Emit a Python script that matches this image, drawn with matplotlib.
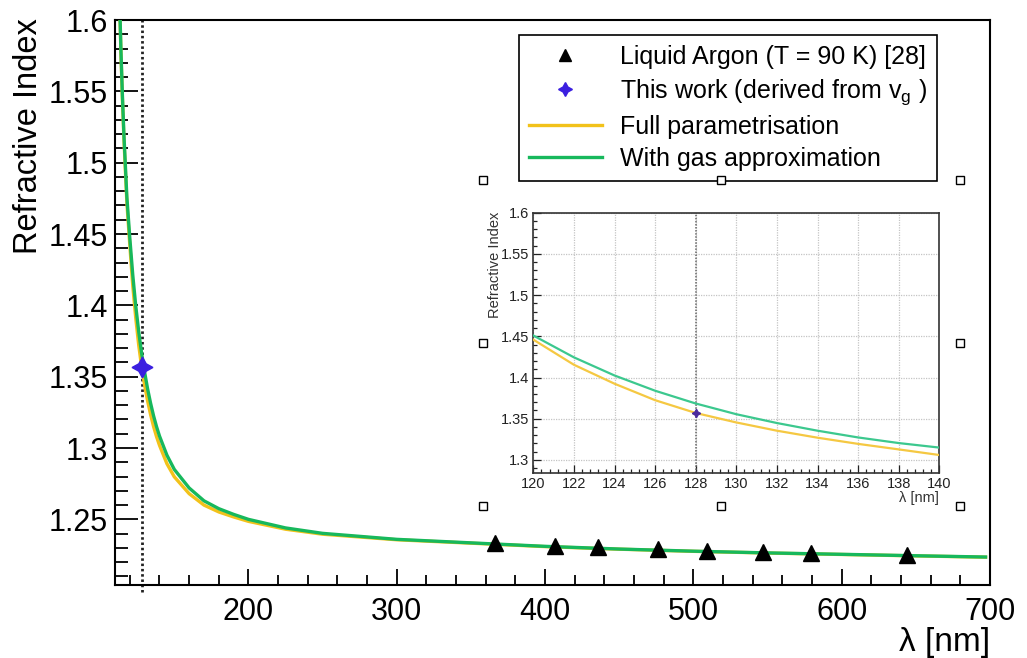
import matplotlib

matplotlib.use("Agg")
import matplotlib.pyplot as plt  # noqa: E402
from matplotlib.lines import Line2D  # noqa: E402
from matplotlib.ticker import FuncFormatter, MultipleLocator  # noqa: E402

plt.rcParams["font.family"] = ["Liberation Sans", "DejaVu Sans"]
plt.rcParams["mathtext.fontset"] = "custom"
plt.rcParams["mathtext.rm"] = "Liberation Sans"
plt.rcParams["mathtext.it"] = "Liberation Sans:italic"

# --- values -----------------------------------------------------------------
# main pad
wavelength = [112, 113, 114, 115, 116, 118, 120, 122, 124, 126, 128, 130, 132, 134, 136, 138,
              140, 145, 150, 160, 170, 180, 190, 200, 225, 250, 300, 365, 400, 450, 500, 550,
              600, 650, 697]
n_gas = [1.665, 1.618, 1.579, 1.547, 1.520, 1.476, 1.447, 1.421, 1.3995, 1.3815, 1.366, 1.353,
         1.3414, 1.3314, 1.3226, 1.315, 1.3084, 1.295, 1.285, 1.272, 1.263, 1.2575, 1.2535,
         1.2500, 1.2440, 1.2402, 1.2360, 1.2328, 1.2311, 1.2292, 1.2277, 1.2265, 1.2255, 1.2245,
         1.2236]
n_full = [1.664, 1.6165, 1.577, 1.5445, 1.517, 1.472, 1.442, 1.4135, 1.391, 1.372, 1.3565, 1.344,
          1.3329, 1.3234, 1.3151, 1.308, 1.3019, 1.289, 1.2798, 1.268, 1.260, 1.2552, 1.2517,
          1.2486, 1.2431, 1.2396, 1.2357, 1.2326, 1.2309, 1.2291, 1.2276, 1.2264, 1.2254, 1.2244,
          1.2235]
lar_wavelength = [366, 407, 436, 476, 509, 547, 579, 644]
lar_n = [1.2334, 1.2314, 1.2303, 1.2290, 1.2281, 1.2272, 1.2265, 1.2252]
work_wavelength = [128.0]
work_n = [1.357]
measured_wavelength = 128.0

# zoomed inset
inset_wavelength = [120, 122, 124, 126, 128, 130, 132, 134, 136, 138, 140]
inset_gas = [1.451, 1.4245, 1.4025, 1.384, 1.3685, 1.3555, 1.3448, 1.3355, 1.3273, 1.3205, 1.315]
inset_full = [1.446, 1.4155, 1.3925, 1.3725, 1.357, 1.3455, 1.3355, 1.327, 1.3195, 1.3128, 1.306]

labels = ["Liquid Argon (T = 90 K) [28]",
          r"This work (derived from v$_{\mathrm{g}}$ )",
          "Full parametrisation",
          "With gas approximation"]

GREEN = "#17b85c"
YELLOW = "#f2c21a"
STAR = "#3b1fe0"
W, H = 1027, 658

fmt_g = FuncFormatter(lambda v, _: f"{v:g}")
star = (4, 1, 0)

fig = plt.figure(figsize=(W / 100, H / 100), dpi=100)

# --- main pad ---------------------------------------------------------------
ax = fig.add_axes([115 / W, 1 - 585 / H, 875 / W, 565 / H])
ax.plot(wavelength, n_full, color=YELLOW, lw=2.4, zorder=3)
ax.plot(wavelength, n_gas, color=GREEN, lw=2.4, zorder=4)
ax.axvline(measured_wavelength, ymin=-0.012, color="#222222", lw=2.0,
           ls=(0, (0.9, 1.0)), clip_on=False, zorder=2)
ax.plot(lar_wavelength, lar_n, ls="none", marker="^", ms=11, color="black", zorder=5)
ax.plot(work_wavelength, work_n, ls="none", marker=star, ms=15, color=STAR, zorder=6)

ax.set_xlim(110, 700)
ax.set_ylim(1.204, 1.6)
ax.xaxis.set_major_locator(MultipleLocator(100))
ax.xaxis.set_minor_locator(MultipleLocator(20))
ax.yaxis.set_major_locator(MultipleLocator(0.05))
ax.yaxis.set_minor_locator(MultipleLocator(0.01))
ax.yaxis.set_major_formatter(fmt_g)
ax.tick_params(which="both", direction="in", top=False, right=False, width=1.3,
               labelsize=22, colors="black")
ax.tick_params(axis="x", which="major", length=11.5, pad=9)
ax.tick_params(axis="x", which="minor", length=7)
ax.tick_params(axis="y", which="major", length=16.5, pad=5)
ax.tick_params(axis="y", which="minor", length=9.5)
for s in ax.spines.values():
    s.set_linewidth(1.5)

fig.text(29 / W, 1 - 18 / H, "Refractive Index", rotation=90, ha="center", va="top",
         fontsize=23.5)
fig.text(990 / W, 1 - 642 / H, "λ [nm]", ha="right", va="center", fontsize=24)

handles = [
    Line2D([], [], ls="none", marker="^", ms=8, color="black"),
    Line2D([], [], ls="none", marker=star, ms=10, color=STAR),
    Line2D([], [], color=YELLOW, lw=2.4),
    Line2D([], [], color=GREEN, lw=2.4),
]
leg = ax.legend(handles, labels, loc="upper left", bbox_to_anchor=(519 / W, 1 - 35 / H),
                bbox_transform=fig.transFigure, fontsize=18, frameon=True, fancybox=False,
                framealpha=1, edgecolor="black", borderaxespad=0, borderpad=0.4,
                handlelength=2.9, handletextpad=0.75, labelspacing=0.32)
leg.get_frame().set_linewidth(1.2)
leg.set_zorder(10)

# --- zoomed inset -------------------------------------------------------------
ax_in = fig.add_axes([533.3 / W, 1 - 473.3 / H, 406 / W, 260.6 / H])
ax_in.set_zorder(8)
ax_in.grid(True, which="major", color="#c4c4c4", lw=0.9, ls=(0, (1, 1)))
ax_in.set_axisbelow(True)
ax_in.plot(inset_wavelength, inset_full, color="#f5c842", lw=1.6, zorder=3)
ax_in.plot(inset_wavelength, inset_gas, color="#3cc88e", lw=1.6, zorder=4)
ax_in.axvline(measured_wavelength, color="#666666", lw=1.1, ls=(0, (1, 1)), zorder=2)
ax_in.plot(work_wavelength, work_n, ls="none", marker=star, ms=6, color="#4b2a9c", zorder=5)
ax_in.set_xlim(120, 140)
ax_in.set_ylim(1.2838, 1.6)
ax_in.xaxis.set_major_locator(MultipleLocator(2))
ax_in.xaxis.set_minor_locator(MultipleLocator(0.4))
ax_in.yaxis.set_major_locator(MultipleLocator(0.05))
ax_in.yaxis.set_minor_locator(MultipleLocator(0.01))
ax_in.yaxis.set_major_formatter(fmt_g)
ax_in.tick_params(which="both", direction="in", top=False, right=False, width=0.9,
                  labelsize=10.5, colors="#222222")
ax_in.tick_params(which="major", length=5.5, pad=3)
ax_in.tick_params(which="minor", length=3)
for s in ax_in.spines.values():
    s.set_linewidth(1.2)
    s.set_color("#333333")
fig.text(495 / W, 1 - 212 / H, "Refractive Index", rotation=90, ha="center", va="top",
         fontsize=10.5, color="#333333")
fig.text(939 / W, 1 - 498 / H, "λ [nm]", ha="right", va="center", fontsize=10.5,
         color="#333333")

# selection handles around the inset pad (editor screenshot)
handle_x = [483, 721, 960]
handle_y = [180, 343, 506]
for hy in handle_y:
    for hx in handle_x:
        if hx == 721 and hy == 343:
            continue
        fig.add_artist(Line2D([hx / W], [1 - hy / H], marker="s", ms=5.8, mfc="white",
                              mec="black", mew=1.0, ls="none", zorder=20))

fig.savefig("out.png", dpi=100)
